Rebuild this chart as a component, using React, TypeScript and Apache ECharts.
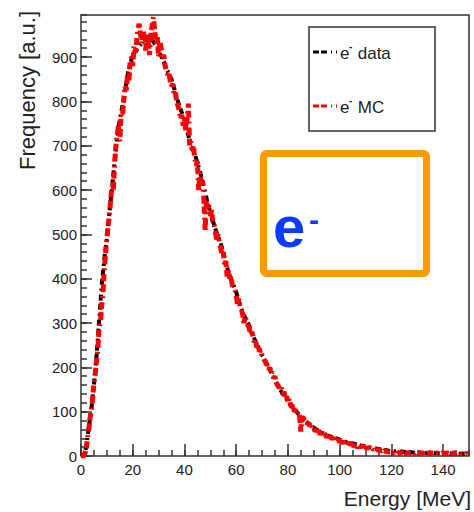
import React, { useEffect, useRef } from "react";
import * as echarts from "echarts";

// Histogram bin widths (MeV)
const dataBinWidth = 1;
const mcBinWidth = 0.5;

// e- data: counts per 1 MeV bin, E = 0 .. 149
const dataCounts = [
  0, 0, 20, 65, 105, 160, 225, 305, 385, 445,
  490, 550, 605, 665, 720, 760, 790, 820, 860, 885,
  905, 912, 920, 928, 935, 940, 943, 940, 935, 925,
  915, 902, 890, 875, 862, 850, 830, 810, 790, 775,
  760, 735, 712, 695, 680, 662, 642, 620, 595, 570,
  550, 530, 512, 495, 480, 460, 435, 415, 400, 385,
  370, 350, 332, 318, 305, 295, 280, 265, 252, 240,
  228, 218, 205, 195, 183, 172, 160, 150, 140, 132,
  125, 117, 110, 102, 95, 90, 84, 78, 73, 68,
  64, 60, 56, 53, 50, 47, 45, 43, 41, 39,
  37, 35, 33, 31, 30, 28, 27, 26, 24, 23,
  22, 20, 19, 18, 17, 16, 15, 14, 13, 12,
  11, 11, 10, 10, 10, 9, 9, 9, 8, 8,
  8, 8, 7, 7, 7, 7, 7, 6, 6, 6,
  6, 6, 6, 5, 5, 5, 5, 5, 5, 5,
];

// e- MC: counts per 0.5 MeV bin, E = 0 .. 149.5
const mcCounts = [
  0, 0, 0, 5, 15, 40, 60, 85, 105, 130, 165, 185, 215, 240, 290, 300, 340, 365, 420, 455,
  490, 520, 545, 580, 610, 600, 660, 700, 725, 745, 710, 770, 765, 800, 835, 825, 860, 845, 890, 900,
  880, 925, 910, 935, 965, 975, 950, 930, 960, 945, 915, 955, 935, 905, 950, 970, 990, 960, 930, 945,
  900, 935, 920, 895, 905, 880, 870, 860, 865, 845, 835, 840, 815, 820, 800, 790, 780, 760, 770, 745,
  760, 735, 760, 795, 700, 710, 690, 700, 670, 655, 665, 600, 640, 610, 620, 580, 510, 575, 560, 565,
  540, 555, 525, 520, 505, 485, 500, 480, 470, 455, 460, 430, 440, 405, 420, 400, 405, 385, 380, 375,
  365, 340, 355, 335, 330, 320, 300, 315, 305, 295, 290, 275, 280, 270, 255, 260, 245, 250, 235, 240,
  225, 220, 215, 210, 205, 195, 200, 185, 190, 175, 180, 165, 160, 155, 150, 155, 140, 145, 130, 135,
  120, 130, 115, 110, 115, 100, 105, 95, 100, 90, 55, 88, 85, 80, 78, 72, 75, 65, 70, 62,
  65, 55, 60, 52, 58, 48, 55, 45, 50, 48, 42, 46, 40, 44, 38, 42, 35, 40, 32, 38,
  30, 36, 28, 34, 25, 32, 22, 28, 30, 25, 32, 20, 27, 24, 18, 26, 22, 20, 24, 18,
  22, 16, 20, 18, 15, 19, 14, 17, 13, 16, 12, 14, 11, 13, 10, 12, 9, 11, 8, 10,
  7, 8, 6, 9, 5, 7, 8, 6, 9, 5, 8, 7, 6, 9, 5, 7, 8, 6, 5, 8,
  7, 6, 9, 5, 7, 6, 8, 5, 7, 6, 8, 5, 7, 6, 5, 8, 6, 7, 5, 6,
  8, 5, 6, 7, 5, 6, 8, 5, 7, 6, 5, 7, 6, 8, 5, 6, 7, 5, 6, 4,
];

const xMin = 0;
const xMax = 150;
const yMin = 0;
const yMax = 995;

const FONT = "'Liberation Sans', Arial, Helvetica, sans-serif";
const TEXT = "#222";
const FRAME = "#333";
const LEGEND_DASH = [6, 2, 6, 4, 1, 4];
const DATA_DASH = [6, 3, 6, 4, 2, 4];
const MC_DASH = [8, 3, 7, 4, 2, 4];

export default function App() {
  const ref = useRef<HTMLDivElement>(null);

  useEffect(() => {
    if (!ref.current) return;
    const chart = echarts.init(ref.current, undefined, { renderer: "svg" });

    const dataSeries = dataCounts.map((v, i) => [i * dataBinWidth, v]);
    const mcSeries = mcCounts.map((v, i) => [i * mcBinWidth, v]);

    const axisCommon = {
      type: "value" as const,
      axisLine: { show: false },
      splitLine: { show: false },
    };

    chart.setOption({
      animation: false,
      backgroundColor: "#fff",
      grid: {
        left: 81,
        top: 15,
        right: 5,
        bottom: 56,
        show: true,
        borderColor: FRAME,
        borderWidth: 1.5,
        backgroundColor: "transparent",
        containLabel: false,
      },
      xAxis: [
        {
          ...axisCommon,
          min: xMin,
          max: xMax,
          interval: 20,
          position: "bottom",
          axisTick: { inside: true, length: 12, lineStyle: { color: FRAME, width: 1.5 } },
          axisLabel: {
            margin: 6,
            fontSize: 15,
            color: TEXT,
            fontFamily: FONT,
            showMaxLabel: false,
          },
        },
        {
          ...axisCommon,
          min: xMin,
          max: xMax,
          interval: 5,
          position: "bottom",
          axisTick: { inside: true, length: 6, lineStyle: { color: FRAME, width: 1.5 } },
          axisLabel: { show: false },
        },
      ],
      yAxis: [
        {
          ...axisCommon,
          min: yMin,
          max: yMax,
          interval: 100,
          position: "left",
          axisTick: { inside: true, length: 11, lineStyle: { color: FRAME, width: 1.5 } },
          axisLabel: {
            margin: 4,
            fontSize: 15,
            color: TEXT,
            fontFamily: FONT,
            showMaxLabel: false,
          },
        },
        {
          ...axisCommon,
          min: yMin,
          max: yMax,
          interval: 20,
          position: "left",
          axisTick: { inside: true, length: 6, lineStyle: { color: FRAME, width: 1.5 } },
          axisLabel: { show: false },
        },
      ],
      series: [
        {
          name: "e- data",
          type: "line",
          xAxisIndex: 0,
          yAxisIndex: 0,
          data: dataSeries,
          showSymbol: false,
          symbol: "none",
          z: 2,
          lineStyle: { color: "#000", width: 4, type: DATA_DASH },
        },
        {
          name: "e- MC",
          type: "line",
          xAxisIndex: 0,
          yAxisIndex: 0,
          data: mcSeries,
          showSymbol: false,
          symbol: "none",
          z: 3,
          lineStyle: { color: "#ff0000", width: 5, type: MC_DASH },
        },
      ],
      graphic: [
        // axis titles
        {
          type: "text",
          x: 471,
          y: 498,
          style: {
            text: "Energy [MeV]",
            align: "right",
            verticalAlign: "middle",
            font: `21px ${FONT}`,
            fill: TEXT,
          },
        },
        {
          type: "text",
          x: 27,
          y: 11,
          rotation: Math.PI / 2,
          style: {
            text: "Frequency [a.u.]",
            align: "right",
            verticalAlign: "middle",
            font: `22px ${FONT}`,
            fill: TEXT,
          },
        },
        // legend box
        {
          type: "rect",
          shape: { x: 309, y: 27, width: 126, height: 104 },
          style: { fill: "#fff", stroke: FRAME, lineWidth: 1.5 },
          z: 10,
        },
        {
          type: "line",
          shape: { x1: 313, y1: 52, x2: 337, y2: 52 },
          style: { stroke: "#000", lineWidth: 3, lineDash: LEGEND_DASH },
          z: 11,
        },
        {
          type: "line",
          shape: { x1: 313, y1: 106, x2: 337, y2: 106 },
          style: { stroke: "#ff0000", lineWidth: 3, lineDash: LEGEND_DASH },
          z: 11,
        },
        {
          type: "text",
          x: 340,
          y: 53,
          style: { text: "e", verticalAlign: "middle", font: `17px ${FONT}`, fill: TEXT },
          z: 11,
        },
        {
          type: "text",
          x: 349,
          y: 46,
          style: { text: "-", verticalAlign: "middle", font: `bold 10px ${FONT}`, fill: TEXT },
          z: 11,
        },
        {
          type: "text",
          x: 353,
          y: 53,
          style: { text: " data", verticalAlign: "middle", font: `17px ${FONT}`, fill: TEXT },
          z: 11,
        },
        {
          type: "text",
          x: 340,
          y: 107,
          style: { text: "e", verticalAlign: "middle", font: `17px ${FONT}`, fill: TEXT },
          z: 11,
        },
        {
          type: "text",
          x: 349,
          y: 100,
          style: { text: "-", verticalAlign: "middle", font: `bold 10px ${FONT}`, fill: TEXT },
          z: 11,
        },
        {
          type: "text",
          x: 353,
          y: 107,
          style: { text: " MC", verticalAlign: "middle", font: `17px ${FONT}`, fill: TEXT },
          z: 11,
        },
        // orange box with e-
        {
          type: "rect",
          shape: { x: 263.5, y: 153.5, width: 163, height: 120, r: 3 },
          style: { fill: "transparent", stroke: "#ff9900", lineWidth: 7 },
          z: 10,
        },
        {
          type: "text",
          x: 273,
          y: 226,
          style: {
            text: "e",
            verticalAlign: "middle",
            font: `bold 58px ${FONT}`,
            fill: "#0a3cff",
          },
          z: 11,
        },
        {
          type: "text",
          x: 309,
          y: 219,
          style: {
            text: "-",
            verticalAlign: "middle",
            font: `bold 30px ${FONT}`,
            fill: "#0a3cff",
          },
          z: 11,
        },
      ],
    });

    return () => chart.dispose();
  }, []);

  return (
    <div
      ref={ref}
      style={{ position: "absolute", left: 0, top: 0, width: 474, height: 512 }}
    />
  );
}
